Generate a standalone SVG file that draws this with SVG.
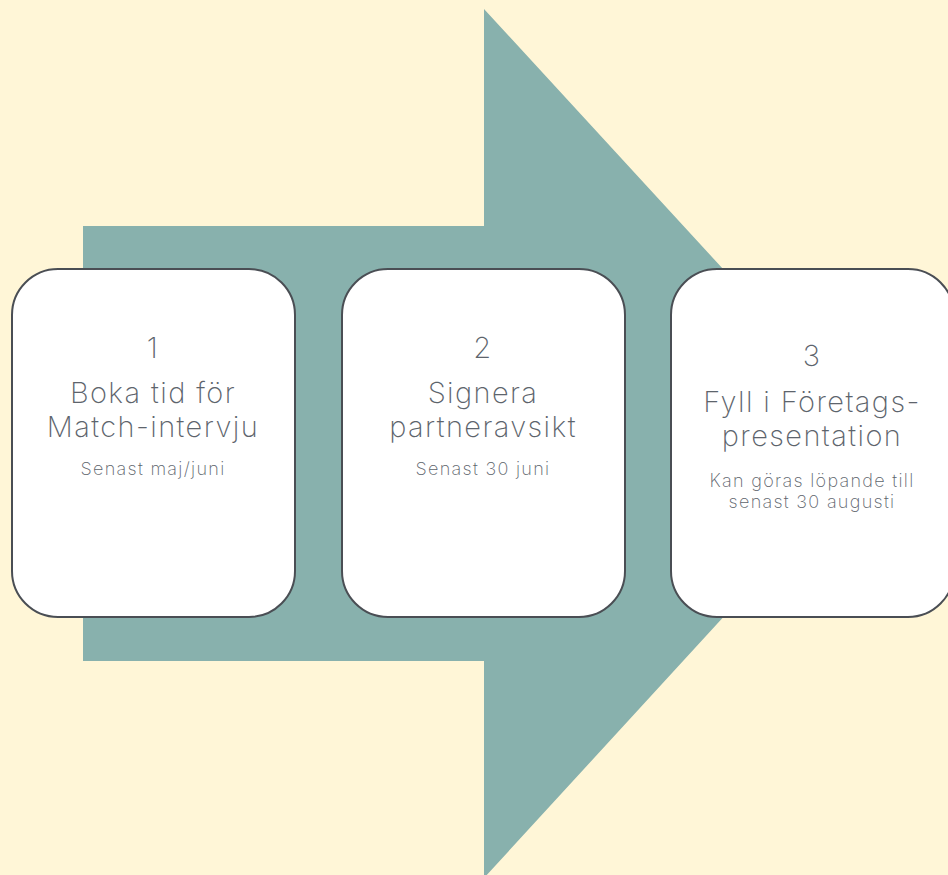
<svg xmlns="http://www.w3.org/2000/svg" width="948" height="875" viewBox="0 0 948 875">
<style>
.box{fill:#ffffff;stroke:#4a4e54;stroke-width:2}
.t{font-family:Inter,"Liberation Sans",sans-serif;font-weight:200;fill:#5d646c;text-anchor:middle}
.n{font-size:29px;letter-spacing:1.4px}
.h{font-size:29px;letter-spacing:1.4px}
.s{font-size:18px;letter-spacing:1.3px}
</style>
<rect width="948" height="875" fill="#fff6d7"/>
<g id="arrow">
<polygon points="83,226 484,226 484,9 883,443 484,878 484,661 83,661" fill="#88b1ad"/>
</g>
<g id="connectors"></g>
<g id="step1">
<rect class="box" x="12" y="269" width="283" height="348" rx="46"/>
<text class="t n" x="153" y="358">1</text>
<text class="t h" x="153" y="403">Boka tid för</text>
<text class="t h" x="153" y="437">Match-intervju</text>
<text class="t s" x="153" y="475">Senast maj/juni</text>
</g>
<g id="step2">
<rect class="box" x="342" y="269" width="283" height="348" rx="46"/>
<text class="t n" x="483" y="358">2</text>
<text class="t h" x="483" y="403">Signera</text>
<text class="t h" x="483" y="437">partneravsikt</text>
<text class="t s" x="483" y="475">Senast 30 juni</text>
</g>
<g id="step3">
<rect class="box" x="671" y="269" width="283" height="348" rx="46"/>
<text class="t n" x="812" y="366">3</text>
<text class="t h" x="812" y="412">Fyll i Företags-</text>
<text class="t h" x="812" y="446">presentation</text>
<text class="t s" x="812" y="487">Kan göras löpande till</text>
<text class="t s" x="812" y="508">senast 30 augusti</text>
</g>
</svg>
